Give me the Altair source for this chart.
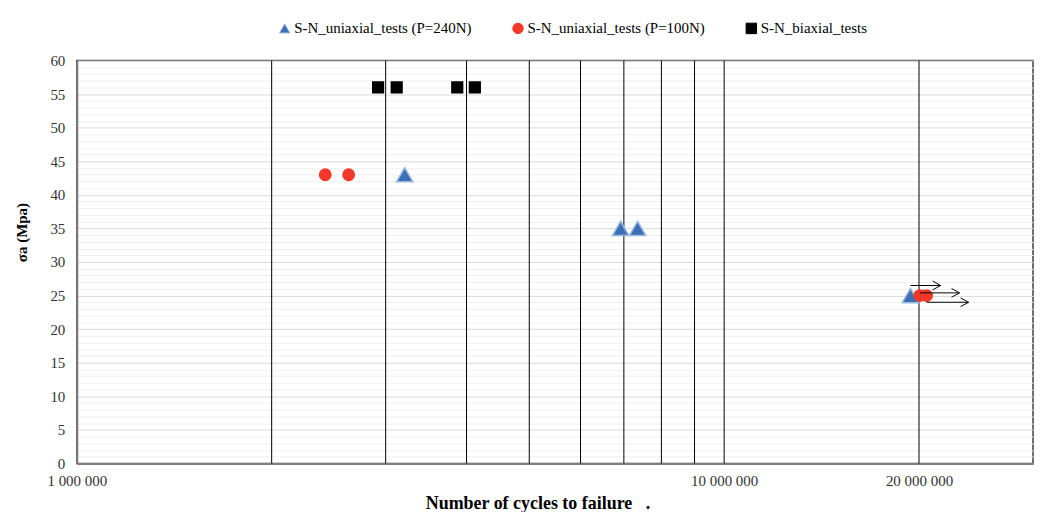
import altair as alt
import pandas as pd

# ---- data ----
series_names = ["S-N_uniaxial_tests (P=240N)", "S-N_uniaxial_tests (P=100N)", "S-N_biaxial_tests"]

tri_x = [3.21e6, 6.92e6, 7.35e6, 19.4e6]
tri_y = [43, 35, 35, 25]

circ_x = [2.42e6, 2.63e6, 20.05e6, 20.55e6]
circ_y = [43, 43, 25, 25]

sq_x = [2.92e6, 3.12e6, 3.87e6, 4.12e6]
sq_y = [56, 56, 56, 56]

# run-out arrows (specimens that did not fail)
arrow_start = [19.4e6, 20.05e6, 20.55e6]
arrow_end = [21.6e6, 23.1e6, 23.85e6]
arrow_y = [26.5, 25.4, 24.0]

x_grid_values = [2e6, 3e6, 4e6, 5e6, 6e6, 7e6, 8e6, 9e6, 1e7, 2e7]
x_label_values = [1e6, 1e7, 2e7]
x_label_texts = ["1 000 000", "10 000 000", "20 000 000"]
y_values = list(range(0, 61))

FONT = "Liberation Serif"

label_expr = " : ".join(
    f"datum.value == {int(v)} ? '{t}'" for v, t in zip(x_label_values, x_label_texts)
) + " : ''"

df_tri = pd.DataFrame({"N": tri_x, "s": tri_y, "series": series_names[0]})
df_circ = pd.DataFrame({"N": circ_x, "s": circ_y, "series": series_names[1]})
df_sq = pd.DataFrame({"N": sq_x, "s": sq_y, "series": series_names[2]})
df_arr = pd.DataFrame({"x0": arrow_start, "x1": arrow_end, "y": arrow_y})
df_grid = pd.DataFrame({"g": x_grid_values})

x_scale = alt.Scale(type="log", domain=[1e6, 3e7], nice=False)
y_scale = alt.Scale(domain=[0, 60], nice=False)

x_axis = alt.Axis(
    values=x_label_values, labelExpr=label_expr, grid=False,
    ticks=False, domainColor="#7f7f7f", domainWidth=2, labelPadding=10,
    labelFont=FONT, labelFontSize=15, labelColor="#333333", labelFlush=False, labelOverlap=False,
    title="Number of cycles to failure\u00a0\u00a0\u00a0.", titleFont=FONT, titleFontSize=18,
    titleFontWeight="bold", titleColor="#000000", titleX=462, titleY=40,
    titleAlign="center", titleBaseline="middle",
)
y_axis = alt.Axis(
    values=y_values, labelExpr="datum.value % 5 == 0 ? datum.value : ''", grid=True,
    gridColor={"condition": {"test": "datum.value % 5 == 0", "value": "#d9d9d9"}, "value": "#efefef"},
    ticks=False, domainColor="#7f7f7f", domainWidth=2, labelPadding=12,
    labelFont=FONT, labelFontSize=15, labelColor="#333333", labelOverlap=False,
    title="σa (Mpa)", titleFont=FONT, titleFontSize=15, titleFontWeight="bold", titleColor="#000000",
    titleX=-55, titleY=172, titleAlign="center", titleBaseline="middle",
)

shape_scale = alt.Scale(domain=series_names, range=["triangle-up", "circle", "square"])
fill_scale = alt.Scale(domain=series_names, range=["#3d6fb6", "#f2382a", "#000000"])
stroke_scale = alt.Scale(domain=series_names, range=["#9cb9e0", "#f2382a", "#000000"])
legend = alt.Legend(title=None, orient="none", legendX=201, legendY=-40, direction="horizontal")

vlines = alt.Chart(df_grid).mark_rule(color="#000000", strokeWidth=1).encode(
    x=alt.X("g:Q", scale=x_scale, axis=x_axis),
)


def points(df, size):
    return alt.Chart(df).mark_point(filled=True, opacity=1, size=size, strokeWidth=1.5).encode(
        x=alt.X("N:Q", scale=x_scale, axis=x_axis),
        y=alt.Y("s:Q", scale=y_scale, axis=y_axis),
        shape=alt.Shape("series:N", scale=shape_scale, legend=legend),
        fill=alt.Fill("series:N", scale=fill_scale, legend=legend),
        stroke=alt.Stroke("series:N", scale=stroke_scale, legend=legend),
    )


arrows = alt.Chart(df_arr).mark_rule(color="#000000", strokeWidth=1).encode(
    x=alt.X("x0:Q", scale=x_scale, axis=x_axis),
    x2="x1:Q",
    y=alt.Y("y:Q", scale=y_scale, axis=y_axis),
)
heads = alt.Chart(df_arr).mark_point(
    shape="M-1,-0.55L0,0L-1,0.55", filled=False, stroke="#000000", strokeWidth=1, size=256, opacity=1
).encode(
    x=alt.X("x1:Q", scale=x_scale, axis=x_axis),
    y=alt.Y("y:Q", scale=y_scale, axis=y_axis),
)

chart = alt.layer(
    vlines, points(df_tri, 270), points(df_circ, 130), points(df_sq, 115), arrows, heads
).properties(
    width=959, height=404,
    autosize=alt.AutoSizeParams(type="none"),
    padding={"left": 69, "top": 52, "right": 2, "bottom": 48},
    background="#ffffff",
).configure_view(
    stroke="#404040", strokeWidth=1.5
).configure_legend(
    labelFont=FONT, labelFontSize=15, labelColor="#000000", symbolSize=110, symbolStrokeWidth=1,
    labelOffset=2, columnPadding=38, labelLimit=400,
)

chart.save("out.html", embed_options={"renderer": "svg", "actions": False})
